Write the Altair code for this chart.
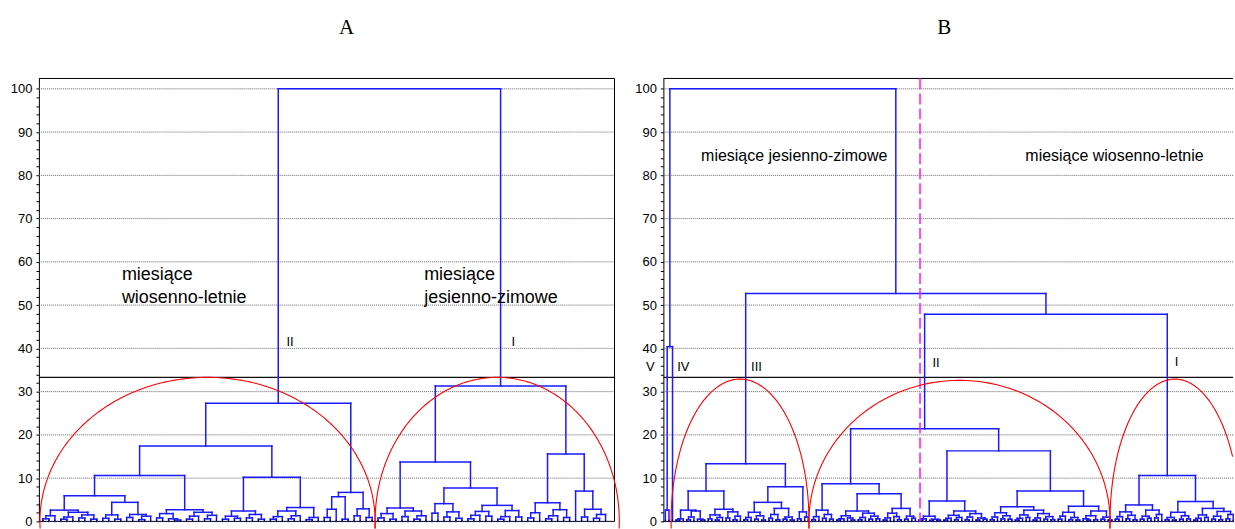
import math
import altair as alt
import pandas as pd

# Dendrogram nodes are [merge distance, left, right]; 0 is a single month.

# ---------- A ----------
a_ii_1a_left = [2.6, [1.3, [0.6, 0, 0], 0], [2.1, [1.0, [0.5, 0, 0], 0], [1.5, [0.8, 0, 0], [0.5, 0, 0]]]]
a_ii_1a_right = [4.4, [1.5, [0.7, 0, 0], [0.5, 0, 0]], [1.6, [0.9, 0, 0], [1.2, [0.4, 0, 0], 0]]]
a_ii_1b = [2.7, [1.8, [0.8, 0, 0], [0.6, 0, [0.3, 0, 0]]], [2.1, [1.2, [0.5, 0, 0], 0], [1.4, [0.6, 0, 0], 0]]]
a_ii_2a = [2.4, [1.2, [0.5, 0, 0], [0.7, 0, 0]], [1.6, [0.8, 0, 0], [0.5, 0, 0]]]
a_ii_2b = [3.2, [2.4, [1.1, [0.5, 0, 0], 0], [1.3, [0.6, 0, 0], 0]], [0.9, [0.4, 0, 0], 0]]
a_ii_3 = [6.7, [5.7, [2.8, [0.9, 0, 0], 0], [0.5, 0, 0]], [2.9, [1.3, 0, 0], [0.9, 0, 0]]]
a_cluster_ii = [27.3,
                [17.4, [10.6, [5.9, a_ii_1a_left, a_ii_1a_right], a_ii_1b], [10.2, a_ii_2a, a_ii_2b]],
                a_ii_3]

a_i_1 = [3.1, [1.8, [0.8, 0, 0], [0.5, 0, 0]], [2.4, [1.1, 0, 0], [1.3, [0.5, 0, 0], 0]]]
a_i_2 = [4.1, [1.9, 0, 0], [2.2, [1.0, 0, 0], [0.7, 0, 0]]]
a_i_3 = [3.7, [2.3, [1.4, [0.6, 0, 0], 0], [1.2, 0, 0]], [2.5, [1.1, [0.5, 0, 0], 0], [1.0, 0, 0]]]
a_i_4 = [4.3, [2.0, [0.8, 0, 0], 0], [2.7, [1.3, [0.6, 0, 0], 0], [0.9, 0, 0]]]
a_i_5 = [2.8, [1.0, 0, 0], [1.6, [0.7, 0, 0], 0]]
a_cluster_i = [31.3, [13.7, a_i_1, [7.7, a_i_2, a_i_3]], [15.6, a_i_4, [7.0, 0, a_i_5]]]

tree_a = [100, a_cluster_ii, a_cluster_i]

# ---------- B ----------
b_v = [2.6, 0, 0]
b_v_iv = [40.4, b_v, 0]

b_iii_1 = [2.6, [0.6, [0.3, 0, 0], 0], [2.4, [1.0, [0.4, 0, 0], 0], [0.5, 0, [0.3, 0, 0]]]]
b_iii_2 = [2.8, [1.5, [0.6, 0, 0], [0.9, [0.3, 0, 0], 0]], [2.2, [0.8, 0, 0], [1.2, [0.4, 0, 0], 0]]]
b_iii_3 = [4.4, [2.1, [0.9, [0.4, 0, 0], 0], [1.3, [0.5, 0, 0], [0.3, 0, 0]]],
           [3.0, [1.6, [0.7, 0, 0], [0.4, 0, 0]], [1.0, [0.5, 0, 0], [0.3, 0, 0]]]]
b_iii_4 = [2.2, [0.6, 0, 0], [1.0, 0, 0]]
b_cluster_iii = [13.3, [7.0, b_iii_1, b_iii_2], [8.0, b_iii_3, b_iii_4]]

b_ii_1 = [2.6, [1.1, [0.4, 0, 0], 0], [1.6, [0.7, 0, 0], [0.5, 0, 0]]]
b_ii_2 = [2.4, [1.3, [0.6, [0.3, 0, 0], 0], [0.8, 0, [0.3, 0, 0]]],
          [1.9, [0.9, [0.4, 0, 0], 0], [1.2, [0.5, 0, 0], [0.6, 0, 0]]]]
b_ii_3 = [3.0, [1.9, [0.8, [0.3, 0, 0], 0], [1.1, 0, [0.4, 0, 0]]], [1.2, [0.5, 0, 0], [0.7, 0, 0]]]
b_ii_4 = [4.7, [1.2, [0.6, [0.3, 0, 0], 0], [0.5, [0.2, 0, 0], [0.3, 0, 0]]],
          [2.4, [1.4, [0.7, [0.3, 0, 0], 0], [0.9, [0.4, 0, 0], 0]],
           [1.8, [1.0, [0.4, 0, 0], 0], [0.8, [0.3, 0, 0], [0.5, 0, 0]]]]]
b_ii_5 = [3.4, [2.0, [1.0, [0.4, 0, 0], 0], [1.3, [0.6, 0, 0], [0.5, 0, 0]]],
          [2.6, [1.5, [0.7, [0.3, 0, 0], 0], [0.9, 0, 0]],
           [1.8, [0.8, [0.3, 0, 0], 0], [1.1, [0.5, 0, 0], [0.4, 0, 0]]]]]
b_ii_6 = [3.5, [2.1, [1.2, [0.5, 0, 0], 0], [0.9, [0.4, 0, 0], [0.3, 0, 0]]],
          [2.4, [1.3, [0.6, 0, [0.3, 0, 0]], [0.4, 0, 0]], [1.0, [0.5, 0, 0], [0.3, 0, 0]]]]
b_cluster_ii = [21.4, [8.7, b_ii_1, [6.4, b_ii_2, b_ii_3]], [16.3, b_ii_4, [7.0, b_ii_5, b_ii_6]]]

b_i_1 = [3.8, [2.2, [1.1, [0.5, 0, 0], 0], [1.4, [0.6, 0, 0], [0.4, 0, 0]]],
         [2.6, [1.2, [0.5, 0, 0], [0.7, 0, 0]], [1.6, [0.8, 0, 0], 0]]]
b_i_2 = [2.1, [0.9, [0.4, 0, 0], [0.3, 0, 0]], [1.3, [0.5, 0, 0], [0.6, 0, 0]]]
b_i_3 = [3.0, [1.5, [0.7, [0.3, 0, 0], 0], [0.9, 0, 0]],
         [2.3, [1.2, [0.5, 0, 0], [0.4, 0, 0]], [1.6, [0.6, 0, 0], 0]]]
b_cluster_i = [10.6, b_i_1, [4.6, b_i_2, b_i_3]]

tree_b = [100, b_v_iv, [52.7, b_cluster_iii, [47.9, b_cluster_ii, b_cluster_i]]]

# cut level and group outlines (left end, right end, top) in month-order units
cut_level = 33.3
arcs_a_left = [-0.5, 55.5]
arcs_a_right = [55.5, 96.3]
arcs_a_top = [33.3, 33.3]
arcs_b_left = [1.6, 40.2, 124.5]
arcs_b_right = [40.2, 124.5, 160.8]
arcs_b_top = [32.9, 32.6, 32.9]
season_split_b = 71.3

labels_a_text = ["miesiące", "wiosenno-letnie", "miesiące", "jesienno-zimowe"]
labels_a_x = [13.2, 13.2, 63.7, 63.7]
labels_a_y = [57.0, 51.7, 57.0, 51.7]
roman_a_text = ["II", "I"]
roman_a_x = [40.7, 78.3]
roman_a_y = [41.5, 41.5]

labels_b_text = ["miesiące jesienno-zimowe", "miesiące wiosenno-letnie"]
labels_b_x = [10.0, 100.8]
labels_b_y = [84.4, 84.4]
roman_b_text = ["V", "IV", "III", "II", "I"]
roman_b_x = [-5.4, 3.3, 24.0, 74.8, 142.6]
roman_b_y = [35.8, 35.8, 35.8, 36.5, 36.9]

Y_TOP = 102.4
grid_values = list(range(10, 101, 10))
tick_values = list(range(0, 101, 2))


def dendrogram(tree):
    segs, leaves = [], []
    counter = [0]

    def walk(node):
        if node == 0:
            x = counter[0]
            counter[0] += 1
            leaves.append(x)
            return x, 0.0
        h, left, right = node
        xl, hl = walk(left)
        xr, hr = walk(right)
        segs.append({"x": xl, "y": hl, "x2": xl, "y2": h})
        segs.append({"x": xr, "y": hr, "x2": xr, "y2": h})
        segs.append({"x": xl, "y": h, "x2": xr, "y2": h})
        return (xl + xr) / 2, h

    walk(tree)
    return pd.DataFrame(segs), pd.DataFrame({"x": leaves, "y": 0.0, "y2": 0.4})


def outline(lefts, rights, tops, x_limit):
    rows = []
    for k, (l, r, t) in enumerate(zip(lefts, rights, tops)):
        cx, a = (l + r) / 2, (r - l) / 2
        for j in range(181):
            ang = -0.05 + (math.pi + 0.1) * j / 180
            x = cx + a * math.cos(ang)
            if x <= x_limit:
                rows.append({"arc": k, "o": j, "x": x, "y": t * math.sin(ang)})
    return pd.DataFrame(rows)


def panel(tree, xdom, width, arcs, arc_limit, big_labels, big_size, romans, title, title_dx,
          right_frame, split=None):
    segs, leaves = dendrogram(tree)
    xs = alt.Scale(domain=xdom, nice=False, zero=False)
    ys = alt.Scale(domain=[0, Y_TOP], nice=False)
    yaxis = alt.Axis(values=tick_values, labelExpr="datum.value % 10 == 0 ? datum.label : ''",
                     title=None, grid=False, tickSize=3, labelPadding=4, tickColor="black",
                     domainColor="black", labelFont="Liberation Sans", labelFontSize=13,
                     labelColor="black", labelFlush=False, labelOverlap=False)

    def X(f):
        return alt.X(f, type="quantitative", scale=xs, axis=None)

    def Y(f):
        return alt.Y(f, type="quantitative", scale=ys, axis=yaxis)

    grid = alt.Chart(pd.DataFrame({"y": grid_values})).mark_rule(
        color="#666", strokeDash=[1, 1], strokeWidth=1).encode(y=Y("y"))
    frame = alt.Chart(pd.DataFrame({"y": [0.0, Y_TOP]})).mark_rule(
        color="black", strokeWidth=1).encode(y=Y("y"))
    cut = alt.Chart(pd.DataFrame({"y": [cut_level]})).mark_rule(
        color="#111", strokeWidth=1.3).encode(y=Y("y"))
    layers = [grid, frame, cut]
    if right_frame:
        layers.append(alt.Chart(pd.DataFrame({"x": [xdom[1]]})).mark_rule(
            color="black", strokeWidth=1).encode(x=X("x")))
    layers.append(alt.Chart(segs).mark_rule(color="#1a1aff", strokeWidth=1.5, strokeCap="square").encode(
        x=X("x"), x2="x2", y=Y("y"), y2="y2"))
    layers.append(alt.Chart(leaves).mark_rule(color="black", strokeWidth=1).encode(
        x=X("x"), y=Y("y"), y2="y2"))
    if split is not None:
        layers.append(alt.Chart(pd.DataFrame({"x": [split]})).mark_rule(
            color="#ff22ff", strokeWidth=1.6, strokeDash=[11, 4]).encode(x=X("x")))
    layers.append(alt.Chart(outline(*arcs, arc_limit)).mark_line(color="#ff0000", strokeWidth=1.1).encode(
        x=X("x"), y=Y("y"), detail="arc:N", order="o:Q"))
    t, tx, ty = big_labels
    layers.append(alt.Chart(pd.DataFrame({"t": t, "x": tx, "y": ty})).mark_text(
        align="left", baseline="middle", font="Liberation Sans", fontSize=big_size, color="black").encode(
        x=X("x"), y=Y("y"), text="t:N"))
    t, tx, ty = romans
    layers.append(alt.Chart(pd.DataFrame({"t": t, "x": tx, "y": ty})).mark_text(
        align="left", baseline="middle", font="Liberation Sans", fontSize=13, color="black").encode(
        x=X("x"), y=Y("y"), text="t:N"))
    return alt.layer(*layers).properties(
        width=width, height=444,
        title=alt.TitleParams(title, font="Liberation Serif", fontSize=21, fontWeight="normal",
                              color="black", anchor="middle", dx=title_dx, offset=40))


chart_a = panel(tree_a, [-0.67, 95.5], 577,
                (arcs_a_left, arcs_a_right, arcs_a_top), 96.3,
                (labels_a_text, labels_a_x, labels_a_y), 18,
                (roman_a_text, roman_a_x, roman_a_y), "A", 20, True)
chart_b = panel(tree_b, [-0.56, 158.94], 571,
                (arcs_b_left, arcs_b_right, arcs_b_top), 158.94,
                (labels_b_text, labels_b_x, labels_b_y), 16,
                (roman_b_text, roman_b_x, roman_b_y), "B", -4, False, split=season_split_b)

chart = alt.hconcat(chart_a, chart_b, spacing=13).configure_view(stroke=None).properties(
    padding={"left": 10, "top": 16, "right": 0, "bottom": 0}, background="white")

chart.save("out.html", embed_options={"renderer": "svg", "actions": False})
